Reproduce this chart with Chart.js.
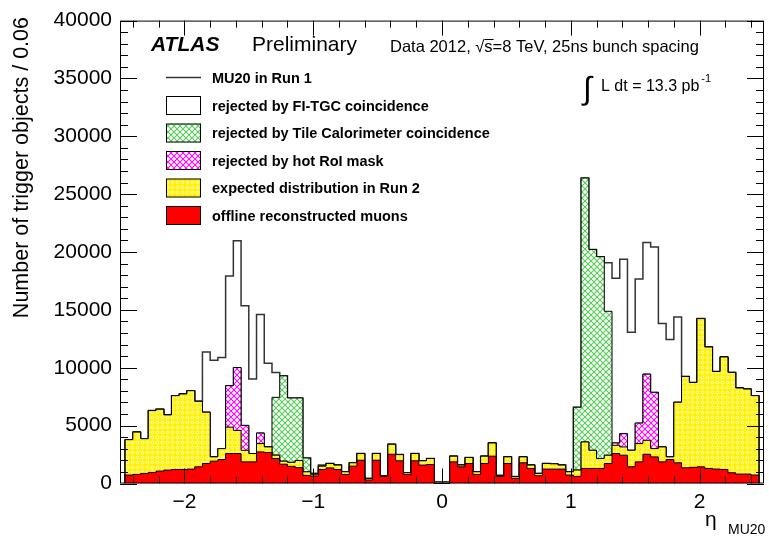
<!DOCTYPE html>
<html>
<head>
<meta charset="utf-8">
<script src="https://cdn.jsdelivr.net/npm/chart.js@4.4.0/dist/chart.umd.min.js"></script>
<style>
  html, body { margin: 0; padding: 0; background: #fff; }
  #wrap { width: 769px; height: 537px; }
</style>
</head>
<body>
<div id="wrap"><canvas id="grafico" width="769" height="537"></canvas></div>
<script>
// eta binning: 82 bins of 0.06 between -2.46 and 2.46
const binLow = -2.46;
const binWidth = 0.06;

// MU20 in Run 1 (outline)
const run1 = [3790, 4440, 3875, 6300, 6415, 5930, 7590, 7735, 8020, 7100,
  11360, 10650, 10880, 17940, 20970, 15370, 9020, 14600, 10390, 9590,
  9305, 7390, 7390, 2200, 875, 1590, 1730, 1590, 1015, 1790,
  2590, 440, 2590, 640, 3390, 2500, 930, 2590, 1960, 2160,
  150, 150, 2360, 1590, 2245, 1015, 2360, 3500, 700, 2300,
  600, 2300, 1590, 870, 1730, 1700, 1590, 1015, 6590, 26400,
  20220, 19600, 19080, 17740, 19370, 13080, 17680, 20830, 20430, 13820,
  12450, 14390, 9250, 8730, 14250, 11790, 9680, 10930, 9600, 8250,
  8160, 7590];
// left after FI-TGC coincidence (top of green hatch)
const afterFI = [3790, 4440, 3875, 6300, 6415, 5930, 7590, 7735, 8020, 7100,
  6160, 2300, 3015, 8450, 10020, 5020, 2590, 4360, 3160, 7445,
  9305, 7390, 7390, 2200, 800, 1500, 1730, 1590, 1015, 1790,
  2590, 440, 2590, 640, 3390, 2500, 930, 2590, 1960, 2160,
  0, 0, 2360, 1590, 2245, 1015, 2360, 3500, 700, 2300,
  600, 2300, 1590, 870, 1730, 1700, 1590, 1015, 6590, 26400,
  20220, 19600, 14880, 3500, 4300, 2870, 5220, 9450, 7880, 3160,
  2300, 7020, 9250, 8730, 14250, 11790, 9680, 10930, 9600, 8250,
  8160, 7590];
// left after Tile coincidence (top of magenta hatch)
const afterTile = [3790, 4440, 3875, 6300, 6415, 5930, 7590, 7735, 8020, 7100,
  6160, 2300, 3015, 8450, 10020, 5020, 2590, 4360, 3160, 2450,
  1930, 1830, 1990, 1010, 800, 1500, 1730, 1590, 1015, 1790,
  2590, 440, 2590, 640, 3390, 2500, 930, 2590, 1960, 2160,
  0, 0, 2360, 1590, 2245, 1015, 2360, 3500, 700, 2300,
  600, 2300, 1590, 870, 1730, 1700, 1590, 1015, 1160, 3590,
  2870, 2160, 2440, 3500, 4300, 2870, 5220, 9450, 7880, 3160,
  2300, 7020, 9250, 8730, 14250, 11790, 9680, 10930, 9600, 8250,
  8160, 7590];
// expected distribution in Run 2
const run2 = [3790, 4440, 3875, 6300, 6415, 5930, 7590, 7735, 8020, 7100,
  6160, 2300, 3015, 4870, 4590, 2870, 2590, 3450, 3160, 2450,
  1930, 1830, 1990, 1010, 800, 1500, 1730, 1590, 1015, 1790,
  2590, 440, 2590, 640, 3390, 2500, 930, 2590, 1960, 2160,
  0, 0, 2360, 1590, 2245, 1015, 2360, 3500, 700, 2300,
  600, 2300, 1590, 870, 1730, 1700, 1590, 1015, 1160, 3590,
  2870, 2160, 2440, 3300, 3160, 2870, 3450, 3730, 3020, 3160,
  2300, 7020, 9250, 8730, 14250, 11790, 9680, 10930, 9600, 8250,
  8160, 7590];
// offline reconstructed muons
const offline = [730, 786, 872, 957, 1072, 1158, 1215, 1215, 1243, 1443,
  1729, 1930, 2070, 2590, 2590, 1870, 1870, 2730, 2680, 2160,
  1670, 1480, 1370, 700, 650, 1215, 1350, 1215, 785, 1500,
  2010, 300, 2010, 615, 2530, 1960, 785, 1960, 1590, 1640,
  0, 0, 1870, 1440, 1730, 785, 1730, 2360, 615, 1730,
  450, 1790, 1300, 670, 1245, 1245, 1245, 730, 615, 1300,
  1300, 1300, 1730, 2590, 2445, 1443, 1870, 2530, 2300, 1870,
  2070, 1790, 1357, 1400, 1443, 1300, 1250, 1215, 930, 815,
  815, 730];

const xTicks = [-2, -1, 0, 1, 2];
const legendLabels = ['MU20 in Run 1', 'rejected by FI-TGC coincidence',
  'rejected by Tile Calorimeter coincidence', 'rejected by hot RoI mask',
  'expected distribution in Run 2', 'offline reconstructed muons'];

const FONT = '"Liberation Sans", Arial, Helvetica, sans-serif';

function histPoints(vals) {
  const pts = [{x: binLow, y: 0}];
  vals.forEach(function(v, i) {
    pts.push({x: binLow + i * binWidth, y: v});
  });
  const end = binLow + vals.length * binWidth;
  pts.push({x: end, y: vals[vals.length - 1]});
  pts.push({x: end, y: 0});
  return pts;
}

function hatch(color) {
  const c = document.createElement('canvas');
  c.width = 6; c.height = 6;
  const g = c.getContext('2d');
  g.fillStyle = '#fff';
  g.fillRect(0, 0, 6, 6);
  g.strokeStyle = color;
  g.lineWidth = 1.1;
  g.beginPath();
  g.moveTo(-1, -1); g.lineTo(7, 7);
  g.moveTo(7, -1); g.lineTo(-1, 7);
  g.stroke();
  return g.createPattern(c, 'repeat');
}

function dots() {
  const c = document.createElement('canvas');
  c.width = 5; c.height = 5;
  const g = c.getContext('2d');
  g.fillStyle = '#fff200';
  g.fillRect(0, 0, 5, 5);
  g.strokeStyle = '#fffbc8';
  g.lineWidth = 1;
  g.beginPath();
  g.arc(2.5, 2.5, 1.4, 0, Math.PI * 2);
  g.stroke();
  return g.createPattern(c, 'repeat');
}

const greenFill = hatch('#55cc55');
const magentaFill = hatch('#ff00ff');
const yellowFill = dots();

function hist(vals, fill, line, width) {
  return {
    data: histPoints(vals),
    stepped: true,
    fill: 'origin',
    backgroundColor: fill,
    borderColor: line,
    borderWidth: width,
    pointRadius: 0,
    tension: 0
  };
}

const decor = {
  id: 'decor',
  afterDatasetsDraw: function(chart) {
    const ctx = chart.ctx, a = chart.chartArea;
    const x = chart.scales.x, y = chart.scales.y;
    ctx.save();
    ctx.strokeStyle = '#000';
    ctx.lineWidth = 1;
    ctx.strokeRect(a.left + 0.5, a.top + 0.5, a.right - a.left - 1, a.bottom - a.top - 1);
    ctx.beginPath();
    for (let v = 0; v <= 40000; v += 1000) {
      const py = Math.round(y.getPixelForValue(v)) + 0.5;
      const len = v % 5000 === 0 ? 17 : 8;
      ctx.moveTo(a.left, py); ctx.lineTo(a.left + len, py);
      ctx.moveTo(a.right, py); ctx.lineTo(a.right - len, py);
    }
    for (let k = -12; k <= 12; k++) {
      const px = Math.round(x.getPixelForValue(k * 0.2)) + 0.5;
      const len = k % 5 === 0 ? 15 : 7;
      ctx.moveTo(px, a.bottom); ctx.lineTo(px, a.bottom - len);
      ctx.moveTo(px, a.top); ctx.lineTo(px, a.top + len);
    }
    ctx.stroke();
    ctx.restore();
  },
  afterDraw: function(chart) {
    const ctx = chart.ctx;
    ctx.save();
    ctx.fillStyle = '#000';
    ctx.textBaseline = 'alphabetic';
    ctx.font = 'italic bold 21px ' + FONT;
    ctx.fillText('ATLAS', 151, 51);
    ctx.font = '21px ' + FONT;
    ctx.fillText('Preliminary', 252, 51);

    // Data 2012, sqrt(s)=8 TeV
    ctx.font = '16.5px ' + FONT;
    let tx = 390;
    ctx.fillText('Data 2012, ', tx, 52);
    tx += ctx.measureText('Data 2012, ').width;
    ctx.fillText('\u221A', tx, 52);
    tx += ctx.measureText('\u221A').width;
    const sw = ctx.measureText('s').width;
    ctx.fillRect(tx, 39, sw + 1, 1);
    ctx.fillText('s=8 TeV, 25ns bunch spacing', tx, 52);

    // integrated luminosity
    ctx.font = '32px ' + FONT;
    ctx.fillText('\u222B', 583, 99);
    ctx.font = '16px ' + FONT;
    ctx.fillText('L dt = 13.3 pb', 601, 91);
    const lw = ctx.measureText('L dt = 13.3 pb').width;
    ctx.font = '11px ' + FONT;
    ctx.fillText('-1', 601 + lw + 2, 82);

    // legend
    const rows = [77.5, 105.5, 133, 160.5, 188, 215.5];
    const fills = [null, '#fff', greenFill, magentaFill, yellowFill, '#ff0000'];
    rows.forEach(function(ry, i) {
      if (i === 0) {
        ctx.strokeStyle = '#333';
        ctx.lineWidth = 1.5;
        ctx.beginPath();
        ctx.moveTo(166, ry); ctx.lineTo(201, ry);
        ctx.stroke();
      } else {
        ctx.fillStyle = fills[i];
        ctx.fillRect(166, ry - 9.5, 35, 19);
        ctx.strokeStyle = '#000';
        ctx.lineWidth = 1;
        ctx.strokeRect(166.5, ry - 9, 34, 18);
      }
      ctx.fillStyle = '#000';
      ctx.font = 'bold 14.5px ' + FONT;
      ctx.textBaseline = 'middle';
      ctx.fillText(legendLabels[i], 212, ry + 1);
    });

    // axis titles
    ctx.textBaseline = 'middle';
    ctx.font = '21.5px ' + FONT;
    ctx.translate(22, 17);
    ctx.rotate(-Math.PI / 2);
    ctx.textAlign = 'right';
    ctx.fillText('Number of trigger objects / 0.06', 0, 0);
    ctx.setTransform(1, 0, 0, 1, 0, 0);
    ctx.textAlign = 'left';
    ctx.textBaseline = 'alphabetic';
    ctx.font = '21px ' + FONT;
    ctx.fillText('\u03B7', 705, 526);
    ctx.font = '14px ' + FONT;
    ctx.fillText('MU20', 728, 534);
    ctx.restore();
  }
};

const ctx = document.getElementById('grafico').getContext('2d');
const chart = new Chart(ctx, {
  type: 'line',
  data: {
    datasets: [
      hist(offline, '#ff0000', '#000', 1),
      hist(run2, yellowFill, '#000', 1),
      hist(afterTile, magentaFill, '#000', 1),
      hist(afterFI, greenFill, '#000', 1),
      hist(run1, '#ffffff', '#333', 1.5)
    ]
  },
  options: {
    responsive: false,
    animation: false,
    devicePixelRatio: 1,
    layout: { padding: { top: 17, right: 5, left: 0, bottom: 0 } },
    plugins: { legend: { display: false }, tooltip: { enabled: false } },
    scales: {
      x: {
        type: 'linear',
        min: -2.5,
        max: 2.5,
        grid: { display: false, drawTicks: false },
        border: { display: false },
        afterBuildTicks: function(scale) {
          scale.ticks = xTicks.map(function(v) { return {value: v}; });
        },
        afterFit: function(scale) { scale.height = 53.5; },
        ticks: {
          color: '#000',
          padding: 6,
          maxRotation: 0,
          font: { family: FONT, size: 21 },
          callback: function(v) { return v < 0 ? '\u2212' + Math.abs(v) : String(v); }
        }
      },
      y: {
        min: 0,
        max: 40000,
        grid: { display: false, drawTicks: false },
        border: { display: false },
        afterFit: function(scale) { scale.width = 120; },
        ticks: {
          stepSize: 5000,
          color: '#000',
          padding: 8,
          font: { family: FONT, size: 21 },
          callback: function(v) { return String(v); }
        }
      }
    }
  },
  plugins: [decor]
});
</script>
</body>
</html>
